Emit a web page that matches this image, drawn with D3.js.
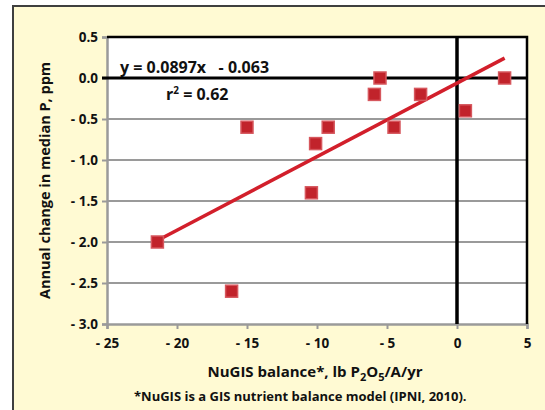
<!DOCTYPE html>
<html>
<head>
<meta charset="utf-8">
<script src="https://cdn.jsdelivr.net/npm/d3@7"></script>
<style>
  body { margin: 0; background: #fff; }
  text { font-family: "Open Sans", "DejaVu Sans", sans-serif; font-weight: bold; }
</style>
</head>
<body>
<div id="chart"></div>
<script>
// data
var balance = [-21.4, -15, -16.1, -10.4, -10.1, -9.2, -5.9, -5.5, -4.5, -2.6, 0.6, 3.4];
var pChange = [-2.0, -0.6, -2.6, -1.4, -0.8, -0.6, -0.2, 0.0, -0.6, -0.2, -0.4, 0.0];
var xTicks = [-25, -20, -15, -10, -5, 0, 5];
var yTicks = [0.5, 0.0, -0.5, -1.0, -1.5, -2.0, -2.5, -3.0];
var slope = 0.0897, intercept = -0.063;
var fitRange = [-21.4, 3.4];

var W = 545, H = 410;
var svg = d3.select("#chart").append("svg").attr("width", W).attr("height", H);

// yellow panel with left/top border
svg.append("rect").attr("x", 12).attr("y", 5).attr("width", W - 12).attr("height", H - 5)
  .attr("fill", "#fffad3");
svg.append("path").attr("d", "M13,410V6H545")
  .attr("fill", "none").attr("stroke", "#3f3f3f").attr("stroke-width", 2);

var pLeft = 107, pRight = 527, pTop = 37, pBottom = 324;
var x = d3.scaleLinear().domain([-25, 5]).range([pLeft, pRight]);
var y = d3.scaleLinear().domain([-3, 0.5]).range([pBottom, pTop]);

svg.append("rect").attr("x", pLeft).attr("y", pTop).attr("width", pRight - pLeft).attr("height", pBottom - pTop)
  .attr("fill", "#fff");

// grid lines
svg.append("g").selectAll("line").data(yTicks.filter(function (d) { return d !== 0 && d !== 0.5 && d !== -3; }))
  .enter().append("line")
  .attr("x1", pLeft).attr("x2", pRight)
  .attr("y1", function (d) { return y(d); }).attr("y2", function (d) { return y(d); })
  .attr("stroke", "#9a9a9a").attr("stroke-width", 2);

// axes
var xAxis = svg.append("g").attr("transform", "translate(0," + pBottom + ")")
  .call(d3.axisBottom(x).tickValues(xTicks).tickSize(5).tickPadding(9)
    .tickFormat(function (d) { return d < 0 ? "- " + Math.abs(d) : d; }));
var yAxis = svg.append("g").attr("transform", "translate(" + pLeft + ",0)")
  .call(d3.axisLeft(y).tickValues(yTicks).tickSize(5).tickPadding(4)
    .tickFormat(function (d) { return d < 0 ? "- " + Math.abs(d).toFixed(1) : d.toFixed(1); }));
[xAxis, yAxis].forEach(function (a) {
  a.select(".domain").attr("stroke", "#9a9a9a").attr("stroke-width", 2.5);
  a.selectAll(".tick line").attr("stroke", "#9a9a9a").attr("stroke-width", 2);
  a.selectAll("text").attr("font-size", 13.5).attr("fill", "#111")
    .style("font-family", "'Open Sans', sans-serif").style("font-weight", "bold");
});

// black top/right border and zero lines
svg.append("path").attr("d", "M" + pLeft + "," + pTop + "H" + pRight + "V" + pBottom)
  .attr("fill", "none").attr("stroke", "#000").attr("stroke-width", 2.5);
svg.append("line").attr("x1", pLeft - 5).attr("x2", pRight).attr("y1", y(0)).attr("y2", y(0))
  .attr("stroke", "#000").attr("stroke-width", 3);
svg.append("line").attr("x1", x(0)).attr("x2", x(0)).attr("y1", pTop).attr("y2", pBottom)
  .attr("stroke", "#000").attr("stroke-width", 3.5);

// trend line
svg.append("line")
  .attr("x1", x(fitRange[0])).attr("y1", y(slope * fitRange[0] + intercept))
  .attr("x2", x(fitRange[1])).attr("y2", y(slope * fitRange[1] + intercept))
  .attr("stroke", "#d21f2b").attr("stroke-width", 3.5);

// points
var s = 12;
svg.append("g").selectAll("rect").data(balance).enter().append("rect")
  .attr("x", function (d) { return x(d) - s / 2; })
  .attr("y", function (d, i) { return y(pChange[i]) - s / 2; })
  .attr("width", s).attr("height", s)
  .attr("fill", "#c1232b").attr("stroke", "#d6575d").attr("stroke-width", 1.5);

// equation text
svg.append("text").attr("x", 120).attr("y", 73).attr("font-size", 16).attr("fill", "#111")
  .attr("xml:space", "preserve").text("y = 0.0897x   - 0.063");
var r2 = svg.append("text").attr("x", 166).attr("y", 100).attr("font-size", 16).attr("fill", "#111");
r2.append("tspan").text("r");
r2.append("tspan").attr("font-size", 10).attr("dy", -6).text("2");
r2.append("tspan").attr("dy", 6).text(" = 0.62");

// axis titles
svg.append("text").attr("transform", "translate(50," + ((pTop + pBottom) / 2) + ") rotate(-90)")
  .attr("text-anchor", "middle").attr("font-size", 14.5).attr("fill", "#111")
  .text("Annual change in median P, ppm");
var xt = svg.append("text").attr("x", (pLeft + pRight) / 2 - 2).attr("y", 377)
  .attr("text-anchor", "middle").attr("font-size", 15).attr("fill", "#111");
xt.append("tspan").text("NuGIS balance*, lb P");
xt.append("tspan").attr("font-size", 11).attr("dy", 4).text("2");
xt.append("tspan").attr("dy", -4).text("O");
xt.append("tspan").attr("font-size", 11).attr("dy", 4).text("5");
xt.append("tspan").attr("dy", -4).text("/A/yr");
svg.append("text").attr("x", (pLeft + pRight) / 2 - 47).attr("y", 401)
  .attr("text-anchor", "start").attr("font-size", 13).attr("fill", "#111")
  .attr("x", 134)
  .text("*NuGIS is a GIS nutrient balance model (IPNI, 2010).");
</script>
</body>
</html>
